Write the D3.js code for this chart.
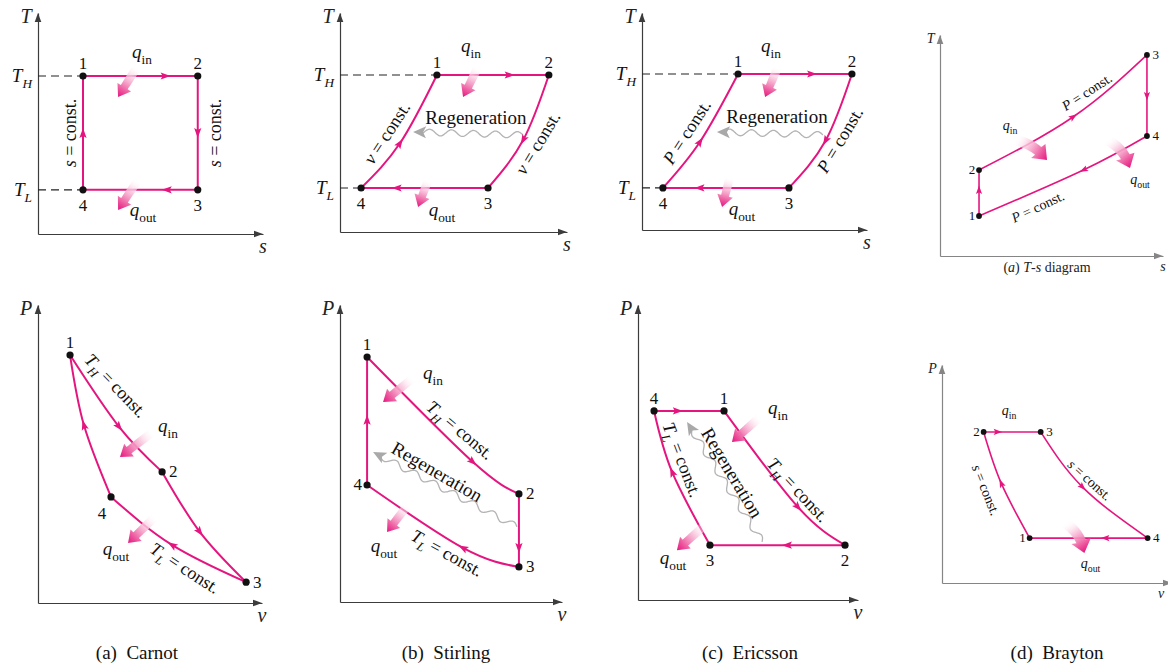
<!DOCTYPE html>
<html><head><meta charset="utf-8">
<script src="https://cdn.jsdelivr.net/npm/d3@7"></script>
<style>
html,body{margin:0;padding:0;background:#fff;}
svg, svg text{font-family:"Liberation Serif","DejaVu Serif","Times New Roman",serif;}
</style></head><body>
<svg id="chart" width="1168" height="668" font-family="Liberation Serif, DejaVu Serif, serif"></svg>
<script>
// ================= DATA (diagram units, 0–10 along each axis) =================
const captions = ["(a)\u00a0 Carnot", "(b)\u00a0 Stirling", "(c)\u00a0 Ericsson", "(d)\u00a0 Brayton"];

// States: [label, x-value, y-value]; processes run 1→2→3→4→1
const carnotTsStates   = [["1",2.0,7.15],["2",7.1,7.15],["3",7.1,2.0],["4",2.0,2.0]];
const carnotTsMids     = [null,null,null,null];
const stirlingTsStates = [["1",4.27,7.17],["2",9.2,7.17],["3",6.52,2.01],["4",0.93,2.01]];
const stirlingTsMids   = [null,[8.07,4.2],null,[2.64,4.05]];
const ericssonTsStates = [["1",4.27,7.19],["2",9.33,7.19],["3",6.53,1.94],["4",0.93,1.94]];
const ericssonTsMids   = [null,[8.15,4.1],null,[2.58,4.07]];
const braytonTsStates  = [["1",1.75,1.81],["2",1.75,3.89],["3",9.28,9.1],["4",9.28,5.43]];
const braytonTsMids    = [null,[5.98,6.3],null,[6.43,3.89]];

const carnotPvStates   = [["1",1.43,8.32],["2",5.54,4.40],["3",9.29,0.70],["4",3.26,3.56]];
const carnotPvMids     = [[3.62,5.91],[7.23,2.38],[5.98,1.95],[2.05,5.97]];
const stirlingPvStates = [["1",1.22,8.25],["2",8.06,3.64],["3",8.06,1.18],["4",1.22,3.94]];
const stirlingPvMids   = [[5.99,4.71],null,[5.54,1.82],null];
const ericssonPvStates = [["1",3.91,6.41],["2",9.41,1.86],["3",3.27,1.86],["4",0.73,6.41]];
const ericssonPvMids   = [[7.27,3.15],null,[1.55,4.34],null];
const braytonPvStates  = [["1",3.81,2.06],["2",1.81,6.93],["3",4.29,6.93],["4",8.94,2.06]];
const braytonPvMids    = [[2.57,4.59],null,[6.11,4.4],null];

// Annotations: [text key, x-value, y-value, angle]
const carnotTsNotes   = [["sConst",1.42,4.57,-90],["sConst",7.87,4.57,-90],["qin",4.62,8.05,0],["qout",4.67,0.9,0]];
const stirlingTsNotes = [["vConst",2.07,4.52,-57],["vConst",8.72,4.06,-59],["qin",5.77,8.31,0],["qout",4.49,0.82,0],["regen",5.99,5.2,0]];
const ericssonTsNotes = [["PConst",2.0,4.52,-57],["PConst",8.8,4.15,-59],["qin",5.73,8.29,0],["qout",4.44,0.78,0],["regen",6.0,5.2,0]];
const braytonTsNotes  = [["PConst",6.59,7.42,-33],["PConst",4.39,2.22,-25],["qin",3.14,5.79,0],["qout",8.97,3.35,0]];
const carnotPvNotes   = [["THConst",3.47,7.29,46],["TLConst",6.56,1.17,33],["qin",5.8,5.8,0],["qout",3.48,1.68,0]];
const stirlingPvNotes = [["THConst",5.41,5.79,40],["TLConst",4.82,1.65,29],["regen",4.37,4.38,30],["qin",4.19,7.58,0],["qout",1.98,1.75,0]];
const ericssonPvNotes = [["TLConst",2.0,4.75,69],["THConst",7.27,3.73,47],["regen",4.27,4.31,59],["qin",6.36,6.37,0],["qout",1.59,1.29,0]];
const braytonPvNotes  = [["sConst",6.42,4.72,42],["sConst",1.9,4.27,68],["qin",2.92,7.8,0],["qout",6.46,0.78,0]];

// Heat-transfer arrows: [tail x, tail y, tip x, tip y]
const carnotTsHeat   = [[4.4,7.56,3.56,6.2],[4.44,2.44,3.56,1.09]];
const stirlingTsHeat = [[6.08,7.53,5.42,6.16],[3.88,2.37,3.44,1.14]];
const ericssonTsHeat = [[6.04,7.51,5.47,6.13],[3.91,2.44,3.56,1.06]];
const braytonTsHeat  = [[3.36,5.25,4.8,4.34],[7.49,5.25,8.52,3.98]];
const carnotPvHeat   = [[5.13,5.74,3.66,4.9],[5.22,2.89,4.02,2.01]];
const stirlingPvHeat = [[3.29,7.54,1.94,6.73],[3.06,3.27,2.12,2.36]];
const ericssonPvHeat = [[5.55,6.2,4.27,5.36],[3.05,2.54,1.77,1.69]];
const braytonPvHeat  = [[5.35,2.75,6.19,1.38]];

// Regeneration wavy arrows: [start x, start y, tip x, tip y]
const stirlingTsWave = [8.06,4.43,3.22,4.57];
const ericssonTsWave = [8.04,4.38,3.33,4.52];
const stirlingPvWave = [7.97,2.53,1.49,5.05];
const ericssonPvWave = [5.64,1.97,2.23,6.03];

// Rich text pieces: [text, style]  (i = italic, n = normal, s* = subscript)
const TXT = {
  sConst:  [["s","i"],[" = const.","n"]],
  vConst:  [["v","i"],[" = const.","n"]],
  PConst:  [["P","i"],[" = const.","n"]],
  THConst: [["T","i"],["H","si"],[" = const.","n"]],
  TLConst: [["T","i"],["L","si"],[" = const.","n"]],
  qin:     [["q","i"],["in","sn"]],
  qout:    [["q","i"],["out","sn"]],
  regen:   [["Regeneration","n"]],
  TH:      [["T","i"],["H","si"]],
  TL:      [["T","i"],["L","si"]]
};

// ================= LAYOUT =================
const FONT = "'Liberation Serif','DejaVu Serif','Times New Roman',serif";
const PINK = "#e5157f";
const big   = {num:17, note:18, q:19, regen:19, axis:20, tick:19, lw:2, r:3.6, axisCol:"#3c3c3c",
               heat:{w0:4.5,w1:4,hw:8,hl:11}, k:1};
const small = {num:13, note:14, q:14, regen:14, axis:14, tick:14, lw:1.6, r:2.9, axisCol:"#858585",
               heat:{w0:5.5,w1:5,hw:10,hl:12}, k:0.78};

const panels = [
  {states:carnotTsStates, mids:carnotTsMids, notes:carnotTsNotes, heat:carnotTsHeat, wave:null,
   xr:[38,263], yr:[234,13], xl:"s", yl:"T", levels:true, fr:[0.72,0.5,0.27,0.5], sides:["t","t","b","b"], st:big, bend:[0,0]},
  {states:stirlingTsStates, mids:stirlingTsMids, notes:stirlingTsNotes, heat:stirlingTsHeat, wave:stirlingTsWave,
   xr:[340,567], yr:[232,13], xl:"s", yl:"T", levels:true, fr:[0.65,0,0.72,0], sides:["t","t","b","b"], st:big, bend:[0,0]},
  {states:ericssonTsStates, mids:ericssonTsMids, notes:ericssonTsNotes, heat:ericssonTsHeat, wave:ericssonTsWave,
   xr:[642,867], yr:[230,13], xl:"s", yl:"T", levels:true, fr:[0.65,0,0.71,0], sides:["t","t","b","b"], st:big, bend:[0,0]},
  {states:braytonTsStates, mids:braytonTsMids, notes:braytonTsNotes, heat:braytonTsHeat, wave:null,
   xr:[940,1163], yr:[256,35], xl:"s", yl:"T", levels:false, fr:[0.57,0,0.51,0], sides:["l","l","r","r"], st:small, bend:[-7,-8]},
  {states:carnotPvStates, mids:carnotPvMids, notes:carnotPvNotes, heat:carnotPvHeat, wave:null,
   xr:[38,262], yr:[603,305], xl:"v", yl:"P", levels:false, fr:[0,0,0,0], sides:["t","r","r","bl"], st:big, bend:[0,0]},
  {states:stirlingPvStates, mids:stirlingPvMids, notes:stirlingPvNotes, heat:stirlingPvHeat, wave:stirlingPvWave,
   xr:[340,562], yr:[602,305], xl:"v", yl:"P", levels:false, fr:[0,0.74,0,0.51], sides:["t","r","r","l"], st:big, bend:[0,0]},
  {states:ericssonPvStates, mids:ericssonPvMids, notes:ericssonPvNotes, heat:ericssonPvHeat, wave:ericssonPvWave,
   xr:[638,858], yr:[600,305], xl:"v", yl:"P", levels:false, fr:[0,0.43,0,0.34], sides:["t","b","b","t"], st:big, bend:[0,0]},
  {states:braytonPvStates, mids:braytonPvMids, notes:braytonPvNotes, heat:braytonPvHeat, wave:null,
   xr:[942,1172], yr:[583,365], xl:"v", yl:"P", levels:false, fr:[0,0.25,0,0.36], sides:["l","l","r","r"], st:small, bend:[-8],
   xlx:1161}
];
const captionX = [137, 446, 750, 1057];

// ================= DRAWING =================
const svg = d3.select("#chart");
const defs = svg.append("defs");
let gradId = 0;

function rich(t, parts, size) {
  let shift = 0;
  t.attr("font-family", FONT);
  parts.forEach(([s, st]) => {
    const sub = st[0] === "s";
    const ts = t.append("tspan").text(s).attr("font-size", sub ? size * 0.7 : size);
    if (st.endsWith("i")) ts.attr("font-style", "italic");
    const target = sub ? size * 0.3 : 0;
    if (target !== shift) { ts.attr("dy", target - shift); shift = target; }
  });
}

function arrowHead(g, px, py, ang, color, s) {
  g.append("path")
    .attr("d", `M${5*s},0 L${-5*s},${-3.6*s} L${-3*s},0 L${-5*s},${3.6*s} Z`)
    .attr("fill", color)
    .attr("transform", `translate(${px},${py}) rotate(${ang*180/Math.PI})`);
}

function heatArrow(g, p0, p2, bend, h) {
  const dx = p2[0]-p0[0], dy = p2[1]-p0[1], L = Math.hypot(dx, dy);
  const nx = -dy/L, ny = dx/L;
  const c = [(p0[0]+p2[0])/2 + nx*bend, (p0[1]+p2[1])/2 + ny*bend];
  const q = t => [(1-t)*(1-t)*p0[0] + 2*(1-t)*t*c[0] + t*t*p2[0], (1-t)*(1-t)*p0[1] + 2*(1-t)*t*c[1] + t*t*p2[1]];
  const N = 40, samples = d3.range(N+1).map(i => q(i/N));
  const cum = [0];
  for (let i = 1; i <= N; i++) cum.push(cum[i-1] + Math.hypot(samples[i][0]-samples[i-1][0], samples[i][1]-samples[i-1][1]));
  const total = cum[N], shaftEnd = total - h.hl;
  const left = [], right = [];
  let last = 0;
  for (let i = 0; i <= N && cum[i] <= shaftEnd; i++) last = i;
  for (let i = 0; i <= last; i++) {
    const a = samples[Math.max(0,i-1)], b = samples[Math.min(N,i+1)];
    const tl = Math.hypot(b[0]-a[0], b[1]-a[1]);
    const ux = (b[0]-a[0])/tl, uy = (b[1]-a[1])/tl;
    const w = h.w0 + (h.w1 - h.w0) * cum[i]/shaftEnd;
    left.push([samples[i][0] - uy*w, samples[i][1] + ux*w]);
    right.push([samples[i][0] + uy*w, samples[i][1] - ux*w]);
  }
  const base = samples[last];
  const ux = (p2[0]-base[0]), uy = (p2[1]-base[1]), ul = Math.hypot(ux, uy);
  const vx = ux/ul, vy = uy/ul;
  const poly = [...left,
    [base[0] - vy*h.hw, base[1] + vx*h.hw], p2, [base[0] + vy*h.hw, base[1] - vx*h.hw],
    ...right.reverse()];
  const id = "hg" + (gradId++);
  const gr = defs.append("linearGradient").attr("id", id).attr("gradientUnits", "userSpaceOnUse")
    .attr("x1", p0[0]).attr("y1", p0[1]).attr("x2", p2[0]).attr("y2", p2[1]);
  gr.append("stop").attr("offset", 0).attr("stop-color", "#ffffff").attr("stop-opacity", 0);
  gr.append("stop").attr("offset", 0.3).attr("stop-color", "#fbd5e6").attr("stop-opacity", 0.8);
  gr.append("stop").attr("offset", 0.75).attr("stop-color", "#ee5fa2");
  gr.append("stop").attr("offset", 1).attr("stop-color", PINK);
  g.append("path").attr("d", "M" + poly.map(p => p.join(",")).join("L") + "Z").attr("fill", `url(#${id})`);
}

function wavyArrow(g, p0, p1) {
  const dx = p1[0]-p0[0], dy = p1[1]-p0[1], L = Math.hypot(dx, dy);
  const ux = dx/L, uy = dy/L, nx = -uy, ny = ux;
  const amp = 3.2, wl = 22, stop = L - 9;
  const pts = d3.range(0, stop, 0.8).map(d => [p0[0] + ux*d + nx*amp*Math.sin(2*Math.PI*d/wl),
                                             p0[1] + uy*d + ny*amp*Math.sin(2*Math.PI*d/wl)]);
  g.append("path").attr("d", d3.line().curve(d3.curveBasis)(pts))
    .attr("fill", "none").attr("stroke", "#b4b4b4").attr("stroke-width", 1.3);
  g.append("path").attr("d", "M0,0 L-13,-6 L-10,0 L-13,6 Z").attr("fill", "#a9a9a9")
    .attr("transform", `translate(${p1[0]},${p1[1]}) rotate(${Math.atan2(uy, ux)*180/Math.PI})`);
}

function labelPos(side, px, py, k) {
  switch (side) {
    case "t":  return [px, py - 7*k, "middle"];
    case "b":  return [px, py + 21*k, "middle"];
    case "l":  return [px - 5*k, py + 5.5*k, "end"];
    case "r":  return [px + 7*k, py + 5.5*k, "start"];
    case "bl": return [px - 9*k, py + 22*k, "middle"];
  }
}

panels.forEach(cfg => {
  const st = cfg.st;
  const x = d3.scaleLinear().domain([0, 10]).range(cfg.xr);
  const y = d3.scaleLinear().domain([0, 10]).range(cfg.yr);
  const g = svg.append("g").attr("font-family", FONT);
  const ox = cfg.xr[0], oy = cfg.yr[0];

  // axes (D3 axes with no ticks, plus arrowheads)
  const ax = g.append("g").attr("transform", `translate(0,${oy})`)
    .call(d3.axisBottom(x).tickValues([]).tickSizeOuter(0));
  const ay = g.append("g").attr("transform", `translate(${ox},0)`)
    .call(d3.axisLeft(y).tickValues([]).tickSizeOuter(0));
  [ax, ay].forEach(a => a.select(".domain").attr("stroke", st.axisCol).attr("stroke-width", 1.2));
  const xEnd = Math.min(cfg.xr[1], 1168);
  g.append("path").attr("d", "M0,0 L-9,-3.3 L-9,3.3 Z").attr("fill", st.axisCol)
    .attr("transform", `translate(${cfg.xr[1]},${oy})`);
  g.append("path").attr("d", "M0,0 L-9,-3.3 L-9,3.3 Z").attr("fill", st.axisCol)
    .attr("transform", `translate(${ox},${cfg.yr[1]}) rotate(-90)`);
  g.append("text").attr("x", ox - 12*st.k).attr("y", cfg.yr[1] + 10*st.k).attr("font-family", FONT)
    .attr("text-anchor", "middle").attr("font-size", st.axis).attr("font-style", "italic").attr("fill", "#222").text(cfg.yl);
  g.append("text").attr("x", cfg.xlx || xEnd).attr("y", oy + 19*st.k).attr("font-family", FONT)
    .attr("text-anchor", "middle").attr("font-size", st.axis).attr("font-style", "italic").attr("fill", "#222").text(cfg.xl);

  const pts = cfg.states.map(d => [d[1], d[2]]);

  // T_H / T_L dashed levels
  if (cfg.levels) {
    [[0, "TH"], [3, "TL"]].forEach(([i, key]) => {
      g.append("line").attr("x1", ox).attr("x2", x(pts[i][0])).attr("y1", y(pts[i][1])).attr("y2", y(pts[i][1]))
        .attr("stroke", "#222").attr("stroke-width", 1.2).attr("stroke-dasharray", "8,5");
      const t = g.append("text").attr("x", ox - 6).attr("y", y(pts[i][1]) + 6)
        .attr("text-anchor", "end").attr("fill", "#111");
      rich(t, TXT[key], st.tick);
    });
  }

  // wavy regeneration arrow
  if (cfg.wave) {
    const w = cfg.wave;
    wavyArrow(g, [x(w[0]), y(w[1])], [x(w[2]), y(w[3])]);
  }

  // process paths
  const line = d3.line().x(d => x(d[0])).y(d => y(d[1])).curve(d3.curveNatural);
  const heads = [];
  pts.forEach((a, i) => {
    const b = pts[(i + 1) % pts.length];
    const m = cfg.mids[i];
    const seg = m ? [a, m, b] : [a, b];
    const p = g.append("path").attr("d", line(seg)).attr("fill", "none")
      .attr("stroke", PINK).attr("stroke-width", st.lw);
    const node = p.node(), L = node.getTotalLength();
    let at;
    if (m) {
      const mx = x(m[0]), my = y(m[1]);
      let best = 1e9;
      for (let l = 0; l <= L; l += 0.5) {
        const q = node.getPointAtLength(l);
        const d = (q.x - mx) ** 2 + (q.y - my) ** 2;
        if (d < best) { best = d; at = l; }
      }
    } else at = cfg.fr[i] * L;
    const p1 = node.getPointAtLength(Math.max(0, at - 1)), p2 = node.getPointAtLength(Math.min(L, at + 1));
    const c = node.getPointAtLength(at);
    heads.push([c.x, c.y, Math.atan2(p2.y - p1.y, p2.x - p1.x)]);
  });
  heads.forEach(h => arrowHead(g, h[0], h[1], h[2], PINK, st.k === 1 ? 1 : 0.85));

  // heat arrows
  cfg.heat.forEach((h, i) => heatArrow(g, [x(h[0]), y(h[1])], [x(h[2]), y(h[3])], cfg.bend[i] || 0, st.heat));

  // state points & labels
  pts.forEach((p, i) => {
    g.append("circle").attr("cx", x(p[0])).attr("cy", y(p[1])).attr("r", st.r).attr("fill", "#111");
    const [lx, ly, anc] = labelPos(cfg.sides[i], x(p[0]), y(p[1]), st.k);
    g.append("text").attr("x", lx).attr("y", ly).attr("text-anchor", anc).attr("font-family", FONT)
      .attr("font-size", st.num).attr("fill", "#111").text(cfg.states[i][0]);
  });

  // annotations
  cfg.notes.forEach(([key, xv, yv, ang]) => {
    const isQ = key.startsWith("q");
    const size = key === "regen" ? st.regen : isQ ? st.q : st.note;
    const t = g.append("text")
      .attr("transform", `translate(${x(xv)},${y(yv)}) rotate(${ang})`)
      .attr("y", isQ ? size * 0.12 : size * 0.33)
      .attr("text-anchor", "middle").attr("fill", "#111");
    rich(t, TXT[key], size);
  });
});

// Brayton T-s sub-caption
const sub = svg.append("text").attr("x", 1047).attr("y", 272).attr("text-anchor", "middle").attr("fill", "#222");
rich(sub, [["(","n"],["a","i"],[") ","n"],["T","i"],["-","n"],["s","i"],[" diagram","n"]], 14);

// captions
svg.selectAll("text.caption").data(captions).join("text").attr("class", "caption")
  .attr("x", (d, i) => captionX[i]).attr("y", 659).attr("text-anchor", "middle").attr("font-family", FONT)
  .attr("font-size", 19).attr("fill", "#111").text(d => d);
</script>
</body></html>
